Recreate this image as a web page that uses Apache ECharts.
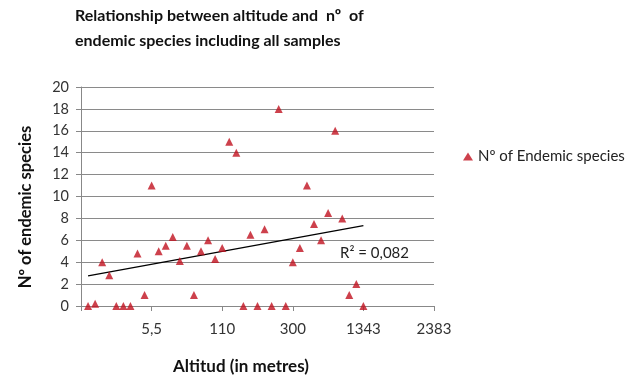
<!DOCTYPE html>
<html>
<head>
<meta charset="utf-8">
<script src="https://cdn.jsdelivr.net/npm/echarts@6/dist/echarts.min.js"></script>
<style>
  html, body { margin: 0; padding: 0; background: #fff; }
  #chart { width: 636px; height: 382px; }
</style>
</head>
<body>
<div id="chart"></div>
<script>
// Number of endemic species per sample, in sample order (x = 1..n)
const endemicSpecies = [0, 0.2, 4, 2.8, 0, 0, 0, 4.8, 1, 11, 5, 5.5, 6.3, 4.1, 5.5, 1, 5, 6, 4.3, 5.3,
  15, 14, 0, 6.5, 0, 7, 0, 18, 0, 4, 5.3, 11, 7.5, 6, 8.5, 16, 8, 1, 2, 0];
// Altitude labels shown at every tenth sample position
const altitudeTicks = [10, 20, 30, 40, 50];
const altitudeLabels = ['5,5', '110', '300', '1343', '2383'];
const rSquaredText = 'R\u00B2 = 0,082';

const points = endemicSpecies.map((v, i) => [i + 1, v]);

// Least-squares linear trendline
const n = points.length;
const mx = points.reduce((s, p) => s + p[0], 0) / n;
const my = points.reduce((s, p) => s + p[1], 0) / n;
let sxy = 0, sxx = 0;
points.forEach(p => { sxy += (p[0] - mx) * (p[1] - my); sxx += (p[0] - mx) * (p[0] - mx); });
const slope = sxy / sxx;
const icpt = my - slope * mx;
const x0 = points[0][0], x1 = points[n - 1][0];
const trend = [[x0, icpt + slope * x0], [x1, icpt + slope * x1]];

const FONT = 'Lato, "Open Sans", sans-serif';
const chart = echarts.init(document.getElementById('chart'));
chart.setOption({
  animation: false,
  textStyle: { fontFamily: FONT },
  title: {
    text: 'Relationship between altitude and  n\u00BA  of\nendemic species including all samples',
    left: 75, top: 3, padding: 0,
    textStyle: { fontFamily: FONT, fontSize: 16, fontWeight: 'bold', color: '#111', lineHeight: 25 }
  },
  legend: {
    data: ['N\u00BA of Endemic species'],
    left: 458, top: 144,
    itemWidth: 10, itemHeight: 8, itemGap: 4,
    textStyle: { fontFamily: FONT, fontSize: 15, color: '#222' }
  },
  grid: { left: 81, right: 202, top: 87, bottom: 76, containLabel: false },
  xAxis: {
    type: 'value', min: 0, max: 50, interval: 10,
    axisLine: { show: true, lineStyle: { color: '#888', width: 1 } },
    axisTick: { show: true, length: 5, lineStyle: { color: '#888' } },
    splitLine: { show: false },
    axisLabel: {
      fontFamily: FONT, fontSize: 15, color: '#333', margin: 16,
      formatter: v => { const k = altitudeTicks.indexOf(v); return k >= 0 ? altitudeLabels[k] : ''; }
    }
  },
  yAxis: {
    type: 'value', min: 0, max: 20, interval: 2,
    axisLine: { show: true, lineStyle: { color: '#888', width: 1 } },
    axisTick: { show: true, length: 5, lineStyle: { color: '#888' } },
    splitLine: { show: true, lineStyle: { color: '#8a8a8a', width: 1 } },
    axisLabel: { fontFamily: FONT, fontSize: 14.5, color: '#333', margin: 12 }
  },
  series: [
    {
      name: 'N\u00BA of Endemic species',
      type: 'scatter',
      symbol: 'triangle', symbolSize: 8,
      itemStyle: { color: '#C0111F' },
      data: points,
      z: 3
    },
    {
      name: 'trend',
      type: 'line',
      data: trend,
      symbol: 'none',
      lineStyle: { color: '#000', width: 1.3 },
      silent: true,
      z: 2
    }
  ],
  graphic: [
    {
      type: 'text', x: 26, y: 207, rotation: Math.PI / 2,
      style: { text: 'N\u00BA of endemic species', fontFamily: FONT, fontSize: 16.5, fontWeight: 'bold',
        fill: '#111', align: 'center', verticalAlign: 'middle' }
    },
    {
      type: 'text', x: 241, y: 367,
      style: { text: 'Altitud (in metres)', fontFamily: FONT, fontSize: 17, fontWeight: 'bold',
        fill: '#111', align: 'center', verticalAlign: 'middle' }
    },
    {
      type: 'text', x: 340, y: 253,
      style: { text: rSquaredText, fontFamily: FONT, fontSize: 15, fill: '#222', verticalAlign: 'middle' }
    }
  ]
});
</script>
</body>
</html>
